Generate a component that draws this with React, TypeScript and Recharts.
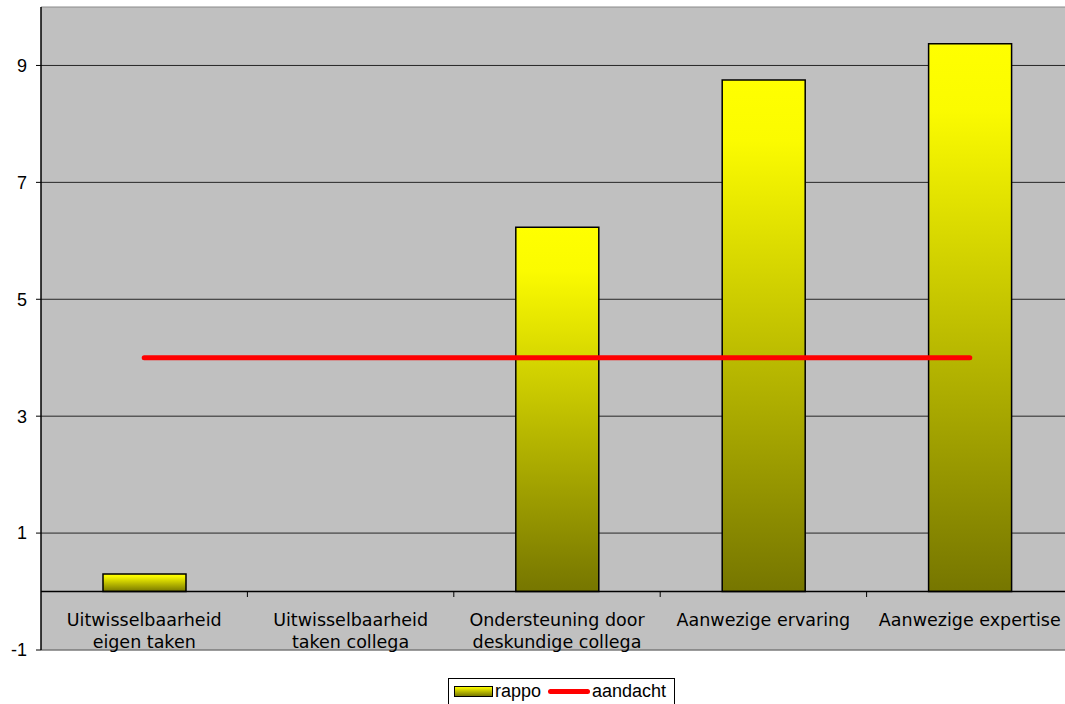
import React from "react";
import {
  ComposedChart,
  Bar,
  Line,
  XAxis,
  YAxis,
  CartesianGrid,
  ReferenceLine,
} from "recharts";

// Category labels, split over two lines as shown under the axis
const categories: string[][] = [
  ["Uitwisselbaarheid", "eigen taken"],
  ["Uitwisselbaarheid", "taken collega"],
  ["Ondersteuning door", "deskundige collega"],
  ["Aanwezige ervaring"],
  ["Aanwezige expertise"],
];

// Series values
const rappo: (number | null)[] = [0.3, null, 6.23, 8.75, 9.37];
const aandacht: number[] = [4, 4, 4, 4, 4];

// Y axis ticks
const yTicks: number[] = [-1, 1, 3, 5, 7, 9];
const yDomain: [number, number] = [-1, 10];

const data = categories.map((lines, i) => ({
  name: lines.join(" "),
  lines,
  rappo: rappo[i],
  aandacht: aandacht[i],
}));

const VIEW_W = 1065;
const CHART_W = 1073; // plot area runs slightly past the visible frame on the right
const CHART_H = 704;
const Y_AXIS_W = 41;
const BAND = (CHART_W - Y_AXIS_W) / categories.length;

const labelFont = "'DejaVu Sans', Verdana, sans-serif";
const numFont = "'Liberation Sans', Arial, sans-serif";

const CategoryTick = (props: any) => {
  const { x, y, payload, index } = props;
  const lines: string[] = data[payload.index ?? index]?.lines ?? [payload.value];
  const zeroY = y - 59; // the category axis sits on the value-0 line
  return (
    <g>
      {index > 0 && (
        <line x1={x - BAND / 2} x2={x - BAND / 2} y1={zeroY} y2={zeroY + 6} stroke="#000" strokeWidth={1} />
      )}
      {lines.map((t, i) => (
        <text
          key={i}
          x={x}
          y={y - 24 + i * 22}
          textAnchor="middle"
          fontFamily={labelFont}
          fontSize={17.5}
          fill="#000"
        >
          {t}
        </text>
      ))}
    </g>
  );
};

const LegendBox = () => (
  <div
    style={{
      position: "absolute",
      left: 448,
      top: 678,
      width: 227,
      display: "flex",
      alignItems: "center",
      border: "1px solid #000",
      background: "#fff",
      padding: "2px 0 2px 5px",
      fontFamily: numFont,
      fontSize: 18,
      color: "#000",
      height: 27,
      boxSizing: "border-box",
      whiteSpace: "nowrap",
    }}
  >
    <div
      style={{
        width: 37,
        height: 9,
        border: "1.5px solid #000",
        background: "linear-gradient(#ffff00, #787800)",
        marginRight: 2,
      }}
    />
    <span>rappo</span>
    <div
      style={{
        width: 42,
        height: 5,
        borderRadius: 3,
        background: "#ff0000",
        margin: "0 2px 0 7px",
      }}
    />
    <span>aandacht</span>
  </div>
);

export default function App() {
  return (
    <div style={{ position: "absolute", left: 0, top: 0, width: VIEW_W, height: CHART_H, background: "#fff", overflow: "hidden" }}>
      <ComposedChart
        width={CHART_W}
        height={CHART_H}
        data={data}
        margin={{ top: 7, right: 0, bottom: 0, left: 0 }}
        barSize={83}
      >
        <defs>
          <linearGradient id="barFill" x1="0" y1="0" x2="0" y2="1">
            <stop offset="0%" stopColor="#ffff00" />
            <stop offset="12%" stopColor="#fbfb00" />
            <stop offset="100%" stopColor="#767600" />
          </linearGradient>
        </defs>
        <CartesianGrid
          vertical={false}
          fill="#c0c0c0"
          stroke="#262626"
          strokeWidth={1}
          horizontalValues={[1, 3, 5, 7, 9]}
        />
        <ReferenceLine y={10} stroke="#8a8a8a" strokeWidth={1} />
        <ReferenceLine y={-1} stroke="#7a7a7a" strokeWidth={1.5} />
        <XAxis
          dataKey="name"
          height={54}
          axisLine={false}
          tickLine={false}
          tickSize={0}
          tickMargin={0}
          interval={0}
          tick={<CategoryTick />}
        />
        <YAxis
          width={Y_AXIS_W}
          domain={yDomain}
          ticks={yTicks}
          allowDataOverflow
          axisLine={{ stroke: "#000", strokeWidth: 1.5 }}
          tickLine={{ stroke: "#000" }}
          tickSize={5}
          tickMargin={9}
          tick={{ fontFamily: numFont, fontSize: 18, fill: "#000" }}
        />
        <Bar
          dataKey="rappo"
          fill="url(#barFill)"
          stroke="#000"
          strokeWidth={1.5}
          isAnimationActive={false}
        />
        <ReferenceLine y={0} stroke="#000" strokeWidth={1.5} />
        <Line
          dataKey="aandacht"
          stroke="#ff0000"
          strokeWidth={5}
          strokeLinecap="round"
          dot={false}
          activeDot={false}
          isAnimationActive={false}
        />
      </ComposedChart>
      <LegendBox />
    </div>
  );
}
